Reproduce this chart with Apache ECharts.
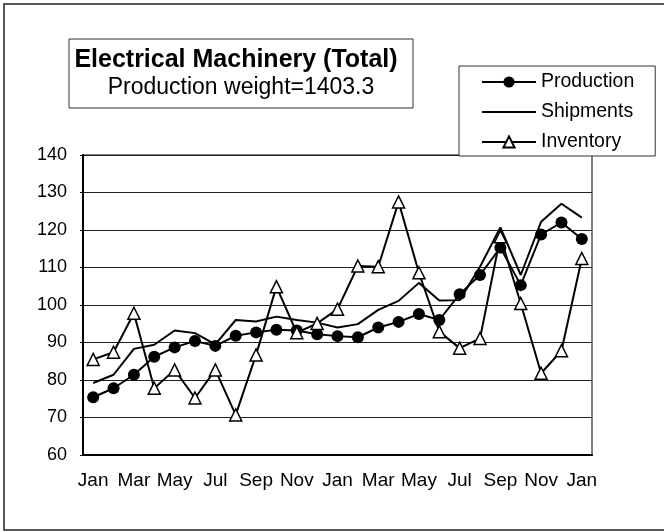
<!DOCTYPE html>
<html>
<head>
<meta charset="utf-8">
<script src="https://cdn.jsdelivr.net/npm/echarts@6/dist/echarts.min.js"></script>
<style>
  html, body { margin: 0; padding: 0; background: #fff; }
  #chart { width: 664px; height: 532px; }
</style>
</head>
<body>
<div id="chart"></div>
<script>
// 25 months, Jan to Jan two years on
const months = ['Jan', 'Feb', 'Mar', 'Apr', 'May', 'Jun', 'Jul', 'Aug', 'Sep', 'Oct', 'Nov', 'Dec',
  'Jan', 'Feb', 'Mar', 'Apr', 'May', 'Jun', 'Jul', 'Aug', 'Sep', 'Oct', 'Nov', 'Dec', 'Jan']

const production = [75.4, 77.8, 81.4, 86.2, 88.7, 90.4, 89.1, 91.8, 92.7, 93.4, 93.2, 92.2, 91.7,
  91.4, 94.0, 95.5, 97.6, 96.0, 102.9, 108.0, 115.3, 105.3, 118.8, 122.0, 117.6]
const shipments = [79.2, 81.4, 88.3, 89.4, 93.2, 92.5, 89.5, 96.0, 95.6, 96.9, 96.0, 95.3, 94.0,
  94.9, 98.7, 101.1, 105.9, 101.2, 101.3, 110.2, 120.7, 108.0, 122.2, 127.0, 123.3]
const inventory = [85.5, 87.4, 97.8, 77.8, 82.7, 75.2, 82.7, 70.7, 86.7, 104.9, 92.6, 95.1, 98.9,
  110.4, 110.2, 127.5, 108.6, 92.9, 88.5, 91.1, 118.2, 100.4, 81.8, 87.8, 112.4]

const titleText = 'Electrical Machinery (Total)'
const subText = 'Production weight=1403.3'

const font = '"Liberation Sans", Arial, sans-serif'
const chart = echarts.init(document.getElementById('chart'))

chart.setOption({
  animation: false,
  textStyle: { fontFamily: font, color: '#000' },
  graphic: [
    { type: 'rect', shape: { x: 4, y: 4, width: 720, height: 526 },
      style: { fill: 'none', stroke: '#222', lineWidth: 1.5 }, silent: true },
    { type: 'rect', shape: { x: 69, y: 39, width: 344, height: 69 },
      style: { fill: '#fff', stroke: '#333', lineWidth: 1 }, silent: true },
    { type: 'text', x: 236, y: 60,
      style: { text: titleText, fontFamily: font, fontSize: 25, fontWeight: 'bold', fill: '#000',
        align: 'center', verticalAlign: 'middle', textAlign: 'center', textVerticalAlign: 'middle' } },
    { type: 'text', x: 241, y: 88,
      style: { text: subText, fontFamily: font, fontSize: 23, fill: '#000',
        align: 'center', verticalAlign: 'middle', textAlign: 'center', textVerticalAlign: 'middle' } },
  ],
  legend: {
    orient: 'vertical',
    left: 459,
    top: 66,
    padding: [6, 21, 4, 22],
    itemWidth: 54,
    itemHeight: 14,
    itemGap: 10,
    backgroundColor: '#fff',
    borderColor: '#333',
    borderWidth: 1,
    borderRadius: 0,
    textStyle: { fontFamily: font, fontSize: 19.5, color: '#000', padding: [0, 0, 0, 0] },
    data: [
      { name: 'Production' },
      { name: 'Shipments', itemStyle: { opacity: 0 } },
      { name: 'Inventory' },
    ],
  },
  grid: {
    left: 83, right: 72, top: 155, bottom: 77,
    show: true, borderColor: '#808080', borderWidth: 2,
  },
  xAxis: {
    type: 'category',
    data: months,
    boundaryGap: true,
    axisLine: { lineStyle: { color: '#000', width: 2 } },
    axisTick: { inside: true, length: 5, interval: 1, lineStyle: { color: '#000' } },
    axisLabel: { interval: 1, color: '#000', fontSize: 19, margin: 16 },
    splitLine: { show: false },
  },
  yAxis: {
    type: 'value',
    min: 60, max: 140, interval: 10,
    axisLine: { show: true, lineStyle: { color: '#000', width: 2 } },
    axisTick: { show: true, length: 3, lineStyle: { color: '#000' } },
    axisLabel: { color: '#000', fontSize: 18, margin: 16 },
    splitLine: { lineStyle: { color: '#222', width: 1 } },
  },
  series: [
    {
      name: 'Production', type: 'line', data: production,
      symbol: 'circle', symbolSize: 12,
      itemStyle: { color: '#000' },
      lineStyle: { color: '#000', width: 2 },
    },
    {
      name: 'Shipments', type: 'line', data: shipments,
      symbol: 'none',
      itemStyle: { color: '#000' },
      lineStyle: { color: '#000', width: 2 },
    },
    {
      name: 'Inventory', type: 'line', data: inventory,
      symbol: 'triangle', symbolSize: 12,
      itemStyle: { color: '#fff', borderColor: '#000', borderWidth: 1.5 },
      lineStyle: { color: '#000', width: 2 },
    },
  ],
})
</script>
</body>
</html>
